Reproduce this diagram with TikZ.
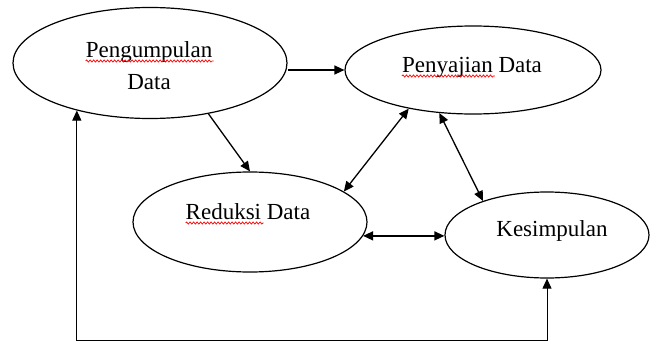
\documentclass[tikz,border=0pt]{standalone}
\usepackage{fontspec}
\setmainfont{Liberation Serif}
\usetikzlibrary{shapes.geometric,arrows.meta,decorations.pathmorphing,calc}
\begin{document}
\begin{tikzpicture}[x=1pt,y=-1pt,
  proc/.style={draw,ellipse,line width=1.2pt,inner sep=0pt},
  lbl/.style={font=\fontsize{23}{32}\selectfont,inner sep=0pt,anchor=base},
  tip/.style={Triangle[length=10pt,width=9pt]},
  conn/.style={line width=1.3pt,-{Triangle[length=10pt,width=9pt]}},
  dconn/.style={line width=1.3pt,{Triangle[length=10pt,width=9pt]}-{Triangle[length=10pt,width=9pt]}},
  loopc/.style={line width=1pt,{Triangle[length=10pt,width=9pt]}-{Triangle[length=10pt,width=9pt]}},
  spell/.style={red,line width=0.7pt,decorate,decoration={snake,amplitude=1.1pt,segment length=3.5pt}}]
\useasboundingbox (0,0) rectangle (651,343);
\node[proc,minimum width=274pt,minimum height=111pt] (e1) at (150,63) {};
\node[proc,minimum width=256pt,minimum height=88pt] (e2) at (473,70) {};
\node[proc,minimum width=234pt,minimum height=100pt] (e3) at (250,222) {};
\node[proc,minimum width=204pt,minimum height=86pt] (e4) at (547,235) {};
\node[lbl] (t1a) at (149,57) {Pengumpulan};
\node[lbl] (t1b) at (149,89) {Data};
\node[lbl] (t2) at (472,72) {Penyajian Data};
\node[lbl] (t3) at (248,219) {Reduksi Data};
\node[lbl] (t4) at (552,236) {Kesimpulan};
\draw[spell] ($(t1a.base west)+(0,4)$) -- ++(128,0);
\draw[spell] ($(t2.base west)+(0,4)$) -- ++(93,0);
\draw[spell] ($(t3.base west)+(0,4)$) -- ++(78,0);
\draw[conn] (e1.east |- e2.west) -- (e2.west);
\draw[conn] (e1.-41) -- (e3.north);
\draw[dconn] (e3.18) -- (e2.-149);
\draw[dconn] (e2.-128) -- (e4.152);
\draw[dconn] (e3.-7) -- (e3.-7 -| e4.west);
\coordinate (bot) at (0,340);
\draw[loopc] (e1.-147) -- (e1.-147 |- bot) -- (e4.south |- bot) -- (e4.south);
\end{tikzpicture}
\end{document}
